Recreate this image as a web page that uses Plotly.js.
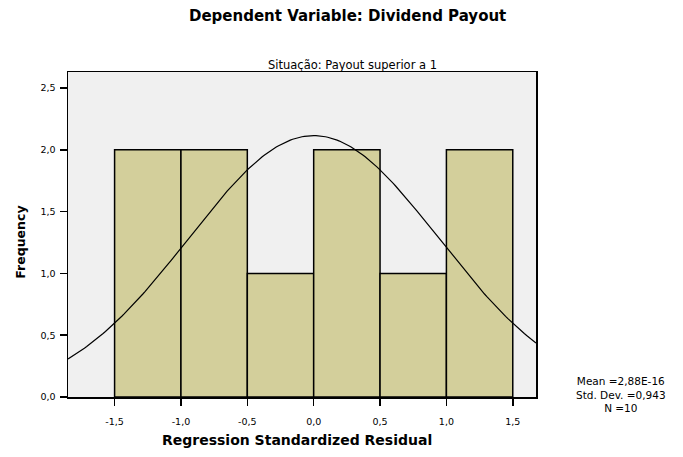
<!DOCTYPE html>
<html>
<head>
<meta charset="utf-8">
<script src="https://cdn.plot.ly/plotly-3.0.1.min.js"></script>
<style>
  html, body { margin: 0; padding: 0; background: white; }
  #chart { width: 683px; height: 457px; }
</style>
</head>
<body>
<div id="chart"></div>
<script>
// Histogram bins (left edges, width 0.5) and counts
var binStarts = [-1.5, -1.0, -0.5, 0.0, 0.5, 1.0];
var binWidth = 0.5;
var counts = [2, 2, 1, 2, 1, 2];

// Stats printed beside the chart
var meanVal = 2.88e-16;
var sdVal = 0.943;
var nVal = 10;

var xTickVals = [-1.5, -1.0, -0.5, 0.0, 0.5, 1.0, 1.5];
var xTickText = ['-1,5', '-1,0', '-0,5', '0,0', '0,5', '1,0', '1,5'];
var yTickVals = [0, 0.5, 1.0, 1.5, 2.0, 2.5];
var yTickText = ['0,0', '0,5', '1,0', '1,5', '2,0', '2,5'];

var xRange = [-1.851, 1.675];
var yRange = [0, 2.63];

// Fitted normal curve scaled to the histogram
var curveX = [];
var curveY = [];
for (var i = 0; i <= 200; i++) {
  var x = xRange[0] + (xRange[1] - xRange[0]) * i / 200;
  var z = (x - meanVal) / sdVal;
  curveX.push(x);
  curveY.push(nVal * binWidth / (sdVal * Math.sqrt(2 * Math.PI)) * Math.exp(-0.5 * z * z));
}

var barCenters = binStarts.map(function (b) { return b + binWidth / 2; });

var traceBars = {
  type: 'bar',
  x: barCenters,
  y: counts,
  width: binWidth,
  marker: { color: '#d3cf9b', line: { color: '#000000', width: 1.5 } },
  hoverinfo: 'skip'
};

var traceCurve = {
  type: 'scatter',
  mode: 'lines',
  x: curveX,
  y: curveY,
  line: { color: '#000000', width: 1.2 },
  hoverinfo: 'skip'
};

var fontFam = '"DejaVu Sans", sans-serif';
var tickFont = { family: fontFam, size: 9.5, color: '#000000' };

var layout = {
  width: 683,
  height: 457,
  margin: { l: 68, r: 147, t: 72, b: 60 },
  paper_bgcolor: 'white',
  plot_bgcolor: '#f0f0f0',
  showlegend: false,
  bargap: 0,
  xaxis: {
    range: xRange,
    tickvals: xTickVals,
    ticktext: xTickText,
    ticks: 'outside',
    ticklen: 7,
    tickwidth: 1.5,
    tickcolor: '#000000',
    ticklabelstandoff: 8,
    showline: true,
    linecolor: '#000000',
    linewidth: 1.5,
    mirror: true,
    showgrid: false,
    zeroline: false,
    tickfont: tickFont
  },
  yaxis: {
    range: yRange,
    tickvals: yTickVals,
    ticktext: yTickText,
    ticks: 'outside',
    ticklen: 7,
    tickwidth: 1.5,
    tickcolor: '#000000',
    ticklabelstandoff: 2,
    showline: true,
    linecolor: '#000000',
    linewidth: 1.5,
    mirror: true,
    showgrid: false,
    zeroline: false,
    tickfont: tickFont
  },
  annotations: [
    {
      text: '<b>Dependent Variable: Dividend Payout</b>',
      xref: 'paper', yref: 'paper', x: 0.598, y: 1, yshift: 56,
      xanchor: 'center', yanchor: 'middle', showarrow: false,
      font: { family: fontFam, size: 15, color: '#000000' }
    },
    {
      text: 'Situação: Payout superior a 1',
      xref: 'paper', yref: 'paper', x: 0.607, y: 1, yshift: 7,
      xanchor: 'center', yanchor: 'middle', showarrow: false,
      font: { family: fontFam, size: 11.5, color: '#000000' }
    },
    {
      text: '<b>Regression Standardized Residual</b>',
      xref: 'paper', yref: 'paper', x: 0.49, y: 0, yshift: -43,
      xanchor: 'center', yanchor: 'middle', showarrow: false,
      font: { family: fontFam, size: 14, color: '#000000' }
    },
    {
      text: '<b>Frequency</b>',
      xref: 'paper', yref: 'paper', x: 0, xshift: -47, y: 0.475,
      xanchor: 'center', yanchor: 'middle', textangle: -90, showarrow: false,
      font: { family: fontFam, size: 12.5, color: '#000000' }
    },
    {
      text: 'Mean =2,88E-16<br>Std. Dev. =0,943<br>N =10',
      xref: 'paper', yref: 'paper', x: 1, xshift: 85, y: 0, yshift: 3,
      xanchor: 'center', yanchor: 'middle', align: 'center', showarrow: false,
      font: { family: fontFam, size: 10.5, color: '#000000' }
    }
  ]
};

Plotly.newPlot('chart', [traceBars, traceCurve], layout, { displayModeBar: false, staticPlot: true });
</script>
</body>
</html>
